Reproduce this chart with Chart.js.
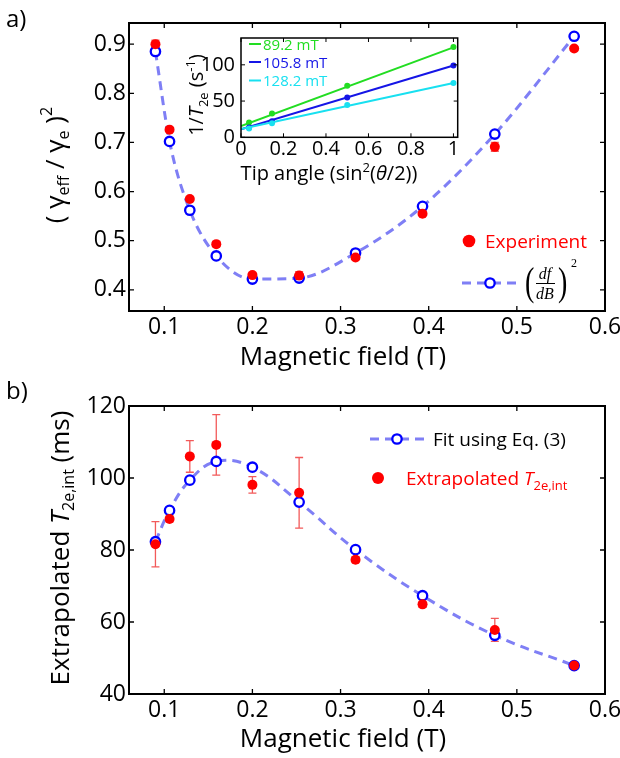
<!DOCTYPE html>
<html>
<head>
<meta charset="utf-8">
<script src="https://cdn.jsdelivr.net/npm/chart.js@4.4.1/dist/chart.umd.min.js"></script>
<style>
  html, body { margin: 0; padding: 0; background: #fff; width: 620px; height: 758px; overflow: hidden; }
  .box { position: absolute; }
</style>
</head>
<body>
<div class="box" style="left:0;top:0;width:660px;height:380px"><canvas id="topChart" width="660" height="380"></canvas></div>
<div class="box" style="left:0;top:380px;width:660px;height:378px"><canvas id="bottomChart" width="660" height="378"></canvas></div>
<div class="box" style="left:180px;top:20px;width:300px;height:180px"><canvas id="insetChart" width="300" height="180"></canvas></div>
<script>
// data
const fieldT = [0.090, 0.106, 0.129, 0.159, 0.200, 0.253, 0.317, 0.393, 0.475, 0.565];
const gammaExp = [0.900, 0.726, 0.585, 0.493, 0.430, 0.429, 0.466, 0.555, 0.691, 0.891];
const gammaExpErr = [0.008, 0.004, 0.004, 0.005, 0.004, 0.008, 0.004, 0.004, 0.009, 0.004];
const gammaFit = [0.885, 0.702, 0.562, 0.469, 0.422, 0.424, 0.475, 0.570, 0.717, 0.916];
const t2Exp = [81.6, 88.6, 106.0, 109.2, 98.1, 95.9, 77.3, 64.9, 57.8, 47.9];
const t2ExpErr = [6.3, 0.8, 4.4, 8.4, 2.3, 9.8, 0.8, 0.8, 3.2, 0.8];
const t2Fit = [82.3, 91.0, 99.4, 104.6, 103.0, 93.3, 80.1, 67.3, 56.3, 47.9];

// inset: 1/T2e vs tip angle
const tipAngle = [0.038, 0.146, 0.5, 1];
const rate892 = [20.5, 33, 71, 124.5];
const rate1058 = [13.5, 22, 55, 99];
const rate1282 = [12, 19.5, 44.5, 75];
const fitEnds = [0, 1];
const fit892 = [15.5, 124];
const fit1058 = [11, 99];
const fit1282 = [11.5, 75];

const fieldTicks = [0.1, 0.2, 0.3, 0.4, 0.5, 0.6];
const gammaTicks = [0.4, 0.5, 0.6, 0.7, 0.8, 0.9];
const t2Ticks = [40, 60, 80, 100, 120];
const tipTicks = [0, 0.2, 0.4, 0.6, 0.8, 1];
const rateTicks = [0, 50, 100];

const FONT = '"Open Sans", "DejaVu Sans", sans-serif';
const SERIF = '"Liberation Serif", "DejaVu Serif", serif';
const RED = '#ff0000', BLUE = '#0000ff', DASH = '#7f7ff5', ERR = '#f25a5a';
const GREEN = '#22dd22', DBLUE = '#1515e6', CYAN = '#18e0f0';

const pts = (xs, ys) => xs.map((x, i) => ({x: x, y: ys[i]}));
const F = s => s + 'px ' + FONT;

// draw a run of text pieces: [text, font, color, dy]
function runs(ctx, parts, x, y, align) {
  let w = 0;
  parts.forEach(p => { ctx.font = p[1]; w += ctx.measureText(p[0]).width; });
  let cx = align === 'center' ? x - w / 2 : x;
  ctx.textAlign = 'left';
  ctx.textBaseline = 'alphabetic';
  parts.forEach(p => {
    ctx.font = p[1];
    ctx.fillStyle = p[2] || '#000';
    ctx.fillText(p[0], cx, y + (p[3] || 0));
    cx += ctx.measureText(p[0]).width;
  });
}

// tall thin delimiter, like latex \left( \right)
function paren(ctx, ch, x, y) {
  ctx.save();
  ctx.translate(x, y); ctx.scale(1, 1.45);
  ctx.font = '28px ' + SERIF; ctx.fillStyle = '#000';
  ctx.textAlign = 'left'; ctx.textBaseline = 'alphabetic';
  ctx.fillText(ch, 0, 0);
  ctx.restore();
}

function dot(ctx, x, y, r) {
  ctx.fillStyle = RED;
  ctx.beginPath(); ctx.arc(x, y, r, 0, Math.PI * 2); ctx.fill();
}
function ring(ctx, x, y) {
  ctx.fillStyle = '#fff'; ctx.strokeStyle = BLUE; ctx.lineWidth = 2.3;
  ctx.beginPath(); ctx.arc(x, y, 4.7, 0, Math.PI * 2); ctx.fill(); ctx.stroke();
}
function dashLine(ctx, x1, x2, y) {
  ctx.save();
  ctx.strokeStyle = DASH; ctx.lineWidth = 3; ctx.setLineDash([9, 6]);
  ctx.beginPath(); ctx.moveTo(x1, y); ctx.lineTo(x2, y); ctx.stroke();
  ctx.restore();
}

// matlab-like box with inward ticks
const boxPlugin = {
  id: 'box',
  afterDraw(chart, args, o) {
    const {ctx, chartArea: a} = chart;
    const sx = chart.scales.x, sy = chart.scales.y;
    ctx.save();
    ctx.strokeStyle = '#000';
    ctx.lineWidth = o.tickWidth;
    ctx.beginPath();
    sx.ticks.forEach(t => {
      const p = sx.getPixelForValue(t.value);
      ctx.moveTo(p, a.bottom); ctx.lineTo(p, a.bottom - o.tick);
      ctx.moveTo(p, a.top); ctx.lineTo(p, a.top + o.tick);
    });
    sy.ticks.forEach(t => {
      const p = sy.getPixelForValue(t.value);
      ctx.moveTo(a.left, p); ctx.lineTo(a.left + o.tick, p);
      ctx.moveTo(a.right, p); ctx.lineTo(a.right - o.tick, p);
    });
    ctx.stroke();
    ctx.lineWidth = o.width;
    ctx.strokeRect(a.left, a.top, a.width, a.height);
    ctx.restore();
  }
};

// vertical error bars from dataset.errorBars
const errPlugin = {
  id: 'errbars',
  beforeDatasetsDraw(chart) {
    const {ctx} = chart;
    const sx = chart.scales.x, sy = chart.scales.y;
    chart.data.datasets.forEach(ds => {
      if (!ds.errorBars) return;
      ctx.save();
      ctx.strokeStyle = ERR; ctx.lineWidth = 1.3;
      ctx.beginPath();
      ds.data.forEach((d, i) => {
        const e = ds.errorBars[i];
        const px = sx.getPixelForValue(d.x);
        const y1 = sy.getPixelForValue(d.y - e), y2 = sy.getPixelForValue(d.y + e);
        ctx.moveTo(px, y1); ctx.lineTo(px, y2);
        ctx.moveTo(px - 4, y1); ctx.lineTo(px + 4, y1);
        ctx.moveTo(px - 4, y2); ctx.lineTo(px + 4, y2);
      });
      ctx.stroke();
      ctx.restore();
    });
  }
};

function fieldAxis(h) {
  return {
    type: 'linear', min: 0.06, max: 0.6,
    afterBuildTicks: s => { s.ticks = fieldTicks.map(v => ({value: v})); },
    afterFit: s => { s.height = h; },
    grid: {display: false, drawTicks: false}, border: {display: false},
    ticks: {color: '#000', font: {family: FONT, size: 23}, padding: 3, maxRotation: 0, autoSkip: false, callback: v => String(v)}
  };
}
function valueAxis(min, max, ticks) {
  return {
    type: 'linear', min: min, max: max,
    afterBuildTicks: s => { s.ticks = ticks.map(v => ({value: v})); },
    afterFit: s => { s.width = 129; },
    grid: {display: false, drawTicks: false}, border: {display: false},
    ticks: {color: '#000', font: {family: FONT, size: 23}, padding: 3, autoSkip: false, callback: v => String(v)}
  };
}

const base = {
  responsive: false, animation: false, devicePixelRatio: 1,
  plugins: {legend: {display: false}, tooltip: {enabled: false}, box: {width: 2, tickWidth: 1.3, tick: 5}}
};

// ---- top panel a) ----
function drawTopText(chart) {
  const ctx = chart.ctx;
  ctx.save();
  runs(ctx, [['a)', F(24)]], 6, 27);
  runs(ctx, [['Magnetic field (T)', F(26)]], 343, 365, 'center');
  ctx.translate(64, 165); ctx.rotate(-Math.PI / 2);
  runs(ctx, [['( γ', F(26)], ['eff', F(16), '#000', 5], [' / γ', F(26)], ['e', F(16), '#000', 5], [' )', F(26)], ['2', F(16), '#000', -12]], 0, 0, 'center');
  ctx.restore();

  ctx.save();
  dot(ctx, 469, 241, 6.3);
  runs(ctx, [['Experiment', F(19), RED]], 485, 248);
  dashLine(ctx, 462, 518, 283);
  ring(ctx, 490, 283);
  // (df/dB)^2
  paren(ctx, '(', 525, 295);
  runs(ctx, [['df', 'italic 16px ' + SERIF]], 545, 279, 'center');
  ctx.fillStyle = '#000'; ctx.fillRect(536, 283, 19, 1);
  runs(ctx, [['dB', 'italic 16px ' + SERIF]], 545, 299, 'center');
  paren(ctx, ')', 558, 295);
  runs(ctx, [['2', '12px ' + SERIF]], 571, 267);
  ctx.restore();
}

new Chart(document.getElementById('topChart'), {
  type: 'scatter',
  data: {
    datasets: [
      {label: 'Experiment', data: pts(fieldT, gammaExp), errorBars: gammaExpErr,
       pointRadius: 5, pointBorderWidth: 0, pointBackgroundColor: RED, showLine: false},
      {label: '(df/dB)^2', data: pts(fieldT, gammaFit), showLine: true,
       borderColor: DASH, borderWidth: 3, borderDash: [9, 6], cubicInterpolationMode: 'monotone',
       pointRadius: 4.7, pointBorderWidth: 2.3, pointBorderColor: BLUE, pointBackgroundColor: '#fff'}
    ]
  },
  options: Object.assign({}, base, {
    layout: {padding: {left: 0, right: 55, top: 23, bottom: 0}},
    scales: {x: fieldAxis(69), y: valueAxis(0.357, 0.943, gammaTicks)}
  }),
  plugins: [boxPlugin, errPlugin, {id: 'topText', afterDraw: drawTopText}]
});

// ---- bottom panel b) ----
function drawBottomText(chart) {
  const ctx = chart.ctx;
  ctx.save();
  runs(ctx, [['b)', F(24)]], 6, 19);
  runs(ctx, [['Magnetic field (T)', F(26)]], 343, 367, 'center');
  ctx.translate(69, 168); ctx.rotate(-Math.PI / 2);
  runs(ctx, [['Extrapolated ', F(26)], ['T', 'italic ' + F(26)], ['2e,int', F(16), '#000', 5], [' (ms)', F(26)]], 0, 0, 'center');
  ctx.restore();

  ctx.save();
  dashLine(ctx, 370, 424, 59);
  ring(ctx, 397, 59);
  runs(ctx, [['Fit using Eq. (3)', F(19)]], 433, 66);
  dot(ctx, 378, 98, 6);
  runs(ctx, [['Extrapolated ', F(19), RED], ['T', 'italic ' + F(19), RED], ['2e,int', F(13), RED, 5]], 406, 105);
  ctx.restore();
}

new Chart(document.getElementById('bottomChart'), {
  type: 'scatter',
  data: {
    datasets: [
      {label: 'Extrapolated T2e,int', data: pts(fieldT, t2Exp), errorBars: t2ExpErr,
       pointRadius: 5, pointBorderWidth: 0, pointBackgroundColor: RED, showLine: false},
      {label: 'Fit using Eq. (3)', data: pts(fieldT, t2Fit), showLine: true,
       borderColor: DASH, borderWidth: 3, borderDash: [9, 6], tension: 0.4,
       pointRadius: 4.7, pointBorderWidth: 2.3, pointBorderColor: BLUE, pointBackgroundColor: '#fff'}
    ]
  },
  options: Object.assign({}, base, {
    layout: {padding: {left: 0, right: 55, top: 26, bottom: 0}},
    scales: {x: fieldAxis(64), y: valueAxis(40, 120, t2Ticks)}
  }),
  plugins: [boxPlugin, errPlugin, {id: 'bottomText', afterDraw: drawBottomText}]
});

// ---- inset ----
function drawInsetText(chart) {
  const ctx = chart.ctx;
  ctx.save();
  runs(ctx, [['Tip angle (sin', F(20)], ['2', F(13), '#000', -8], ['(', F(20)], ['θ', 'italic ' + F(20)], ['/2))', F(20)]], 149, 160, 'center');
  ctx.translate(23, 75); ctx.rotate(-Math.PI / 2);
  runs(ctx, [['1/', F(20)], ['T', 'italic ' + F(20)], ['2e', F(13), '#000', 5], [' (s', F(20)], ['-1', F(13), '#000', -8], [')', F(20)]], 0, 0, 'center');
  ctx.restore();

  const rows = [['89.2 mT', GREEN, 24], ['105.8 mT', DBLUE, 42], ['128.2 mT', CYAN, 60.5]];
  ctx.save();
  rows.forEach(r => {
    ctx.strokeStyle = r[1]; ctx.lineWidth = 2;
    ctx.beginPath(); ctx.moveTo(69, r[2]); ctx.lineTo(81, r[2]); ctx.stroke();
    runs(ctx, [[r[0], F(15), r[1]]], 83, r[2] + 5.5);
  });
  ctx.restore();
}

const insetBg = {
  id: 'insetBg',
  beforeDraw(chart) {
    const {ctx, chartArea: a} = chart;
    ctx.save(); ctx.fillStyle = '#fff'; ctx.fillRect(a.left, a.top, a.width, a.height); ctx.restore();
  }
};

const fitLine = (ys, c) => ({data: pts(fitEnds, ys), showLine: true, borderColor: c, borderWidth: 2, pointRadius: 0});
const ratePts = (ys, c) => ({data: pts(tipAngle, ys), showLine: false, pointRadius: 3, pointBorderWidth: 0, pointBackgroundColor: c});

new Chart(document.getElementById('insetChart'), {
  type: 'scatter',
  data: {
    datasets: [
      ratePts(rate1282, CYAN), fitLine(fit1282, CYAN),
      ratePts(rate1058, DBLUE), fitLine(fit1058, DBLUE),
      ratePts(rate892, GREEN), fitLine(fit892, GREEN)
    ]
  },
  options: Object.assign({}, base, {
    layout: {padding: {left: 0, right: 22.3, top: 9, bottom: 0}},
    plugins: {legend: {display: false}, tooltip: {enabled: false}, box: {width: 1.5, tickWidth: 1, tick: 4}},
    scales: {
      x: {
        type: 'linear', min: 0, max: 1.02,
        afterBuildTicks: s => { s.ticks = tipTicks.map(v => ({value: v})); },
        afterFit: s => { s.height = 62.7; },
        grid: {display: false, drawTicks: false}, border: {display: false},
        ticks: {color: '#000', font: {family: FONT, size: 20}, padding: 0, maxRotation: 0, autoSkip: false, callback: v => String(v)}
      },
      y: {
        type: 'linear', min: 0, max: 137,
        afterBuildTicks: s => { s.ticks = rateTicks.map(v => ({value: v})); },
        afterFit: s => { s.width = 61; },
        grid: {display: false, drawTicks: false}, border: {display: false},
        ticks: {color: '#000', font: {family: FONT, size: 20}, padding: 6, autoSkip: false, callback: v => String(v)}
      }
    }
  }),
  plugins: [insetBg, boxPlugin, {id: 'insetText', afterDraw: drawInsetText}]
});
</script>
</body>
</html>
